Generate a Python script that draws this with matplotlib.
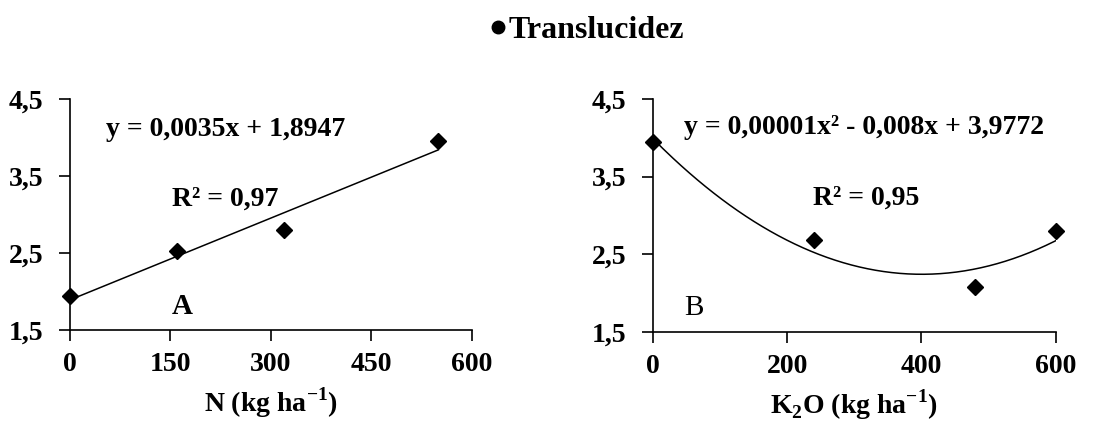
import numpy as np
import matplotlib.pyplot as plt
from matplotlib.lines import Line2D

plt.rcParams['font.family'] = ['Liberation Serif', 'DejaVu Serif']
plt.rcParams['mathtext.fontset'] = 'custom'
plt.rcParams['mathtext.rm'] = 'Liberation Serif'
plt.rcParams['mathtext.bf'] = 'Liberation Serif:bold'

# Painel A - N
n_dose = [0, 160, 320, 550]
n_transl = [1.94, 2.52, 2.80, 3.95]
# Painel B - K2O
k_dose = [0, 240, 480, 600]
k_transl = [3.94, 2.68, 2.07, 2.80]

y_ticks = [1.5, 2.5, 3.5, 4.5]
y_labels = ["1,5", "2,5", "3,5", "4,5"]
xa_ticks = [0, 150, 300, 450, 600]
xb_ticks = [0, 200, 400, 600]

fs = 20

fig = plt.figure(figsize=(11.16, 4.24), dpi=100)
axA = fig.add_axes([0.0627, 0.2217, 0.360, 0.545])
axB = fig.add_axes([0.585, 0.2177, 0.361, 0.549])

for ax in (axA, axB):
    ax.spines['top'].set_visible(False)
    ax.spines['right'].set_visible(False)
    ax.set_ylim(1.5, 4.5)
    ax.set_xlim(0, 600)
    ax.set_yticks(y_ticks)
    ax.set_yticklabels(y_labels, fontsize=fs, fontweight='bold')
    ax.tick_params(direction='out', length=8, width=1.2)
    ax.tick_params(axis='y', pad=11)
    ax.tick_params(axis='x', pad=8)
    for s in ax.spines.values():
        s.set_linewidth(1.2)

# A
axA.set_xticks(xa_ticks)
axA.set_xticklabels([str(t) for t in xa_ticks], fontsize=fs, fontweight='bold')
ca = np.polyfit(n_dose, n_transl, 1)
xs = np.linspace(0, max(n_dose), 100)
axA.plot(xs, np.polyval(ca, xs), 'k-', lw=1.1)
axA.plot(n_dose, n_transl, 'kD', ms=8.5, clip_on=False, zorder=3)
axA.set_xlabel(r"N (kg ha$^{\mathbf{-1}}$)", fontsize=fs, fontweight='bold', labelpad=6)
axA.text(54, 4.1, "y = 0,0035x + 1,8947", fontsize=fs, fontweight='bold', va='center')
axA.text(152, 3.2, "R² = 0,97", fontsize=fs, fontweight='bold', va='center')
axA.text(168, 1.8, "A", fontsize=fs + 1, fontweight='bold', va='center', ha='center')

# B
axB.set_xticks(xb_ticks)
axB.set_xticklabels([str(t) for t in xb_ticks], fontsize=fs, fontweight='bold')
cb = np.polyfit(k_dose, k_transl, 2)
xs = np.linspace(0, max(k_dose), 200)
axB.plot(xs, np.polyval(cb, xs), 'k-', lw=1.1)
axB.plot(k_dose, k_transl, 'kD', ms=8.5, clip_on=False, zorder=3)
axB.set_xlabel(r"K$_{\mathbf{2}}$O (kg ha$^{\mathbf{-1}}$)", fontsize=fs, fontweight='bold', labelpad=6)
axB.text(47, 4.13, "y = 0,00001x² - 0,008x + 3,9772", fontsize=fs, fontweight='bold', va='center')
axB.text(238, 3.22, "R² = 0,95", fontsize=fs, fontweight='bold', va='center')
axB.text(47, 1.8, "B", fontsize=fs + 1, va='center')

h = Line2D([], [], marker='o', ls='none', color='k', ms=9)
fig.legend([h], ["Translucidez"], loc='center', bbox_to_anchor=(0.523, 0.929),
           frameon=False, handletextpad=-0.1, handlelength=0.9,
           prop={'size': 23, 'weight': 'bold'})

fig.savefig("out.png", dpi=100)
